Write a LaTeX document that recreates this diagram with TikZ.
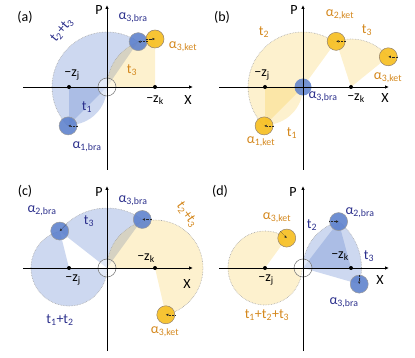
\documentclass[tikz,border=0pt]{standalone}
\usepackage{fontspec}
\setmainfont{Carlito}
\usetikzlibrary{arrows.meta}
\definecolor{phBlue}{RGB}{91,127,204}
\definecolor{phYellow}{RGB}{246,190,30}
\definecolor{phNavy}{RGB}{44,48,140}
\definecolor{phOrange}{RGB}{212,136,30}
\newcommand{\negz}[1]{\char"2212 z\textsubscript{#1}}
\newcommand{\alp}[2]{α\textsubscript{#1,#2}}
\newcommand{\tsum}[1]{t\textsubscript{#1}}

\begin{document}
\begin{tikzpicture}[
    x=1pt, y=1pt,
    font=\fontsize{14}{16}\selectfont,
    bluereg/.style={fill=phBlue, fill opacity=0.3},
    yelreg/.style={fill=phYellow, fill opacity=0.22},
    trail/.style={draw=gray!70, densely dotted, line width=0.6pt},
    bra/.style={circle, inner sep=0pt, minimum size=18pt, fill=phBlue, fill opacity=0.88, draw=gray!80, line width=0.5pt},
    ket/.style={circle, inner sep=0pt, minimum size=18pt, fill=phYellow, fill opacity=0.9, draw=gray!70!brown, line width=0.5pt},
    gap/.style={circle, inner sep=0pt, minimum size=18pt, draw=gray, fill=white, fill opacity=0.4, line width=0.6pt},
    mv/.style={densely dotted, black!85, line width=0.4pt, -{Latex[length=2.5pt,width=2.5pt]}},
    zdot/.style={circle, fill=black, inner sep=0pt, minimum size=4pt},
    axline/.style={line width=0.9pt, -{Latex[length=4pt,width=3.5pt]}},
    lblbra/.style={text=phNavy, inner sep=1pt},
    lblket/.style={text=phOrange, inner sep=1pt},
    lbl/.style={inner sep=1pt}
]
  \useasboundingbox (0,0) rectangle (415,-358);

  % (a)
  \begin{scope}[shift={(107,-87)}]
    \fill[bluereg] (0,0) -- (225:55) arc[start angle=225, end angle=55.5, radius=55] -- cycle;
    \fill[bluereg] (-38,0) -- ++(-90:38) arc[start angle=-90, end angle=0, radius=38] -- cycle;
    \fill[yelreg] (48,0) -- ++(180:48) arc[start angle=180, end angle=90, radius=48] -- cycle;
    \draw[trail] (225:55) arc[start angle=225, end angle=55.5, radius=55];
    \draw[trail] (0,0) arc[start angle=180, end angle=90, radius=48];
    \node[gap] (a-gap) at (0,0) {};
    \node[bra] (a-b1) at (225:55) {};
    \node[bra] (a-b3) at (55.5:55) {};
    \node[ket] (a-k3) at (48,48) {};
    \draw[mv] (a-b1.east) -- (a-b1.center);
    \draw[mv] (a-b3.east) -- (a-b3.center);
    \draw[mv] (a-k3.west) -- (a-k3.center);
    \draw[axline] (-84,0) -- (86,0);
    \draw[axline] (0,-83) -- (0,82);
    \node[zdot] (a-zj) at (-38,0) {};
    \node[zdot] (a-zk) at (48,0) {};
    \node[lbl] (a-tag) at (-82,70) {(a)};
    \node[lbl] (a-p) at (-8,77) {P};
    \node[lbl] (a-x) at (81,-13) {X};
    \node[lbl] (a-lzj) at (-35,12) {\negz{j}};
    \node[lbl] (a-lzk) at (48,-13) {\negz{k}};
    \node[lblbra, rotate=50] (a-t23) at (-45,57) {\tsum{2}+\tsum{3}};
    \node[lblbra] (a-t1) at (-20,-20) {\tsum{1}};
    \node[lblbra] (a-l1) at (-20,-60) {\alp{1}{bra}};
    \node[lblbra] (a-l3) at (26,69) {\alp{3}{bra}};
    \node[lblket] (a-l3k) at (76,40) {\alp{3}{ket}};
    \node[lblket] (a-t3) at (25,17) {\tsum{3}};
  \end{scope}

  % (b)
  \begin{scope}[shift={(303,-87)}]
    \fill[yelreg] (0,0) -- (225:55) arc[start angle=225, end angle=54, radius=55] -- cycle;
    \fill[yelreg] (-38,0) -- ++(-90:38) arc[start angle=-90, end angle=0, radius=38] -- cycle;
    \fill[yelreg] (48,0) -- ++(108:48) arc[start angle=108, end angle=39, radius=48] -- cycle;
    \draw[trail] (225:55) arc[start angle=225, end angle=54, radius=55];
    \draw[trail] ([shift={(108:48)}]48,0) arc[start angle=108, end angle=39, radius=48];
    \node[ket] (b-k1) at (225:55) {};
    \node[ket] (b-k2) at ([shift={(108:48)}]48,0) {};
    \node[ket] (b-k3) at ([shift={(39:48)}]48,0) {};
    \node[bra, draw=none, minimum size=17pt, fill opacity=0.85] (b-b3) at (0,0) {};
    \draw[mv] (b-k1.east) -- (b-k1.center);
    \draw[mv] (b-k2.east) -- (b-k2.center);
    \draw[mv] (b-k3.east) -- (b-k3.center);
    \draw[axline] (-84,0) -- (86,0);
    \draw[axline] (0,-83) -- (0,82);
    \node[zdot] (b-zj) at (-38,0) {};
    \node[zdot] (b-zk) at (48,0) {};
    \node[lbl] (b-tag) at (-81,70) {(b)};
    \node[lbl] (b-p) at (-9,77) {P};
    \node[lbl] (b-x) at (82,-11) {X};
    \node[lbl] (b-lzj) at (-41,12) {\negz{j}};
    \node[lbl] (b-lzk) at (53,-11) {\negz{k}};
    \node[lblket] (b-t2) at (-39,55) {\tsum{2}};
    \node[lblket] (b-l2) at (37,72) {\alp{2}{ket}};
    \node[lblket] (b-t3) at (64,57) {\tsum{3}};
    \node[lblket] (b-l3) at (85,9) {\alp{3}{ket}};
    \node[lblbra] (b-l3b) at (20,-10) {\alp{3}{bra}};
    \node[lblket] (b-t1) at (-11,-46) {\tsum{1}};
    \node[lblket] (b-l1) at (-42,-55) {\alp{1}{ket}};
  \end{scope}

  % (c)
  \begin{scope}[shift={(107,-268)}]
    \fill[bluereg] (-38,0) -- ++(104:38) arc[start angle=104, end angle=360, radius=38] -- cycle;
    \fill[bluereg] (0,0) -- (142:60) arc[start angle=142, end angle=54, radius=60] -- cycle;
    \fill[yelreg] (48,0) -- ++(180:48) arc[start angle=180, end angle=-77, radius=48] -- cycle;
    \draw[trail] ([shift={(104:38)}]-38,0) arc[start angle=104, end angle=360, radius=38];
    \draw[trail] (142:60) arc[start angle=142, end angle=54, radius=60];
    \draw[trail] (0,0) arc[start angle=180, end angle=-77, radius=48];
    \node[gap] (c-gap) at (0,0) {};
    \node[bra] (c-b2) at (142:60) {};
    \node[bra] (c-b3) at (54:60) {};
    \node[ket] (c-k3) at ([shift={(-77:48)}]48,0) {};
    \draw[mv] (c-b2.north east) -- (c-b2.center);
    \draw[mv] (c-b3.east) -- (c-b3.center);
    \draw[mv] (c-k3.east) -- (c-k3.center);
    \draw[axline] (-84,0) -- (86,0);
    \draw[axline] (0,-83) -- (0,82);
    \node[zdot] (c-zj) at (-38,0) {};
    \node[zdot] (c-zk) at (48,0) {};
    \node[lbl] (c-tag) at (-82,77) {(c)};
    \node[lbl] (c-p) at (-8,76) {P};
    \node[lbl] (c-x) at (80,-16) {X};
    \node[lbl] (c-lzj) at (-34,-12) {\negz{j}};
    \node[lbl] (c-lzk) at (39,10) {\negz{k}};
    \node[lblbra] (c-l2) at (-65,57) {\alp{2}{bra}};
    \node[lblbra] (c-t3) at (-18,47) {\tsum{3}};
    \node[lblbra] (c-l3) at (26,67) {\alp{3}{bra}};
    \node[lblket, rotate=-55] (c-t23) at (80,53) {\tsum{2}+\tsum{3}};
    \node[lblbra] (c-t12) at (-47,-52) {\tsum{1}+\tsum{2}};
    \node[lblket] (c-l3k) at (58,-64) {\alp{3}{ket}};
  \end{scope}

  % (d)
  \begin{scope}[shift={(303,-268)}]
    \fill[yelreg] (-38,0) -- ++(54:37) arc[start angle=54, end angle=360, radius=37] -- cycle;
    \fill[bluereg] (48,0) -- ++(180:48) arc[start angle=180, end angle=105, radius=48] -- cycle;
    \fill[bluereg] (0,0) -- (52.5:58.5) arc[start angle=52.5, end angle=-16, radius=58.5] -- cycle;
    \draw[trail] ([shift={(54:37)}]-38,0) arc[start angle=54, end angle=360, radius=37];
    \draw[trail] (0,0) arc[start angle=180, end angle=105, radius=48];
    \draw[trail] (52.5:58.5) arc[start angle=52.5, end angle=-16, radius=58.5];
    \node[gap] (d-gap) at (0,0) {};
    \node[ket] (d-k3) at ([shift={(54:37)}]-38,0) {};
    \node[bra] (d-b2) at (52.5:58.5) {};
    \node[bra] (d-b3) at (-16:58.5) {};
    \draw[mv] (d-k3.north west) -- (d-k3.center);
    \draw[mv] (d-b2.west) -- (d-b2.center);
    \draw[mv] (d-b3.north) -- (d-b3.center);
    \draw[axline] (-84,0) -- (86,0);
    \draw[axline] (0,-83) -- (0,82);
    \node[zdot] (d-zj) at (-38,0) {};
    \node[zdot] (d-zk) at (48,0) {};
    \node[lbl] (d-tag) at (-83,77) {(d)};
    \node[lbl] (d-p) at (-10,76) {P};
    \node[lbl] (d-x) at (77,-12) {X};
    \node[lbl] (d-lzj) at (-37,-12) {\negz{j}};
    \node[lbl] (d-lzk) at (37,12) {\negz{k}};
    \node[lblket] (d-l3k) at (-26,50) {\alp{3}{ket}};
    \node[lblbra] (d-t2) at (9,43) {\tsum{2}};
    \node[lblbra] (d-l2) at (57,55) {\alp{2}{bra}};
    \node[lblbra] (d-t3) at (66,12) {\tsum{3}};
    \node[lblbra] (d-l3) at (41,-35) {\alp{3}{bra}};
    \node[lblket] (d-t123) at (-36,-47) {\tsum{1}+\tsum{2}+\tsum{3}};
  \end{scope}
\end{tikzpicture}
\end{document}
